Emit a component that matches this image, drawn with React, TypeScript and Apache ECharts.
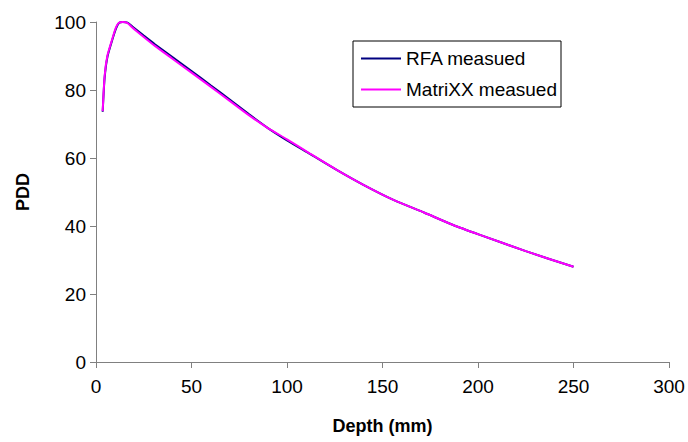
import React, { useEffect, useRef } from "react";
import * as echarts from "echarts";

const depths = [3.5, 4.5, 6, 8.5, 10.5, 12, 14, 16.5, 19, 25, 31, 40, 50, 60, 70, 80, 90, 100, 112, 126, 140, 156, 172, 187, 201, 225, 250];
const rfa = [73.6, 83.5, 89.8, 94.7, 98.1, 99.7, 100, 99.8, 98.7, 96.0, 93.4, 89.7, 85.6, 81.4, 77.2, 72.9, 68.8, 65.2, 61.2, 56.5, 52.1, 47.6, 43.9, 40.3, 37.4, 32.6, 28.0];
const matrixx = [73.8, 84.0, 90.2, 95.0, 98.5, 99.8, 100, 99.7, 98.4, 95.6, 92.9, 89.2, 85.1, 81.0, 76.8, 72.6, 68.8, 65.5, 61.3, 56.5, 52.1, 47.6, 43.9, 40.3, 37.4, 32.6, 28.0];
const seriesNames = ["RFA measued", "MatriXX measued"];
const xTitle = "Depth (mm)";
const yTitle = "PDD";

export default function App() {
  const ref = useRef<HTMLDivElement>(null);
  useEffect(() => {
    if (!ref.current) return;
    const chart = echarts.init(ref.current, undefined, { renderer: "svg" });
    const font = "'Liberation Sans', Arial, sans-serif";
    chart.setOption({
      animation: false,
      backgroundColor: "#ffffff",
      textStyle: { fontFamily: font },
      grid: { left: 96, right: 19, top: 22, bottom: 80, containLabel: false },
      legend: {
        orient: "vertical",
        left: 353,
        top: 41,
        data: seriesNames,
        icon: "rect",
        itemWidth: 40,
        itemHeight: 2,
        itemGap: 12,
        padding: [8, 4, 8, 8],
        borderColor: "#000000",
        borderWidth: 1,
        textStyle: { fontSize: 19, color: "#000", fontFamily: font },
      },
      xAxis: {
        type: "value",
        min: 0,
        max: 300,
        interval: 50,
        name: xTitle,
        nameLocation: "middle",
        nameGap: 55,
        nameTextStyle: { fontSize: 18, fontWeight: "bold", color: "#000", fontFamily: font },
        axisLine: { lineStyle: { color: "#808080", width: 1 } },
        axisTick: { inside: false, length: 6, lineStyle: { color: "#808080" } },
        axisLabel: { fontSize: 19, color: "#000", margin: 15, fontFamily: font },
        splitLine: { show: false },
      },
      yAxis: {
        type: "value",
        min: 0,
        max: 100,
        interval: 20,
        name: yTitle,
        nameLocation: "middle",
        nameGap: 64,
        nameRotate: 90,
        nameTextStyle: { fontSize: 18, fontWeight: "bold", color: "#000", fontFamily: font },
        axisLine: { show: true, lineStyle: { color: "#808080", width: 1 } },
        axisTick: { show: true, inside: false, length: 6, lineStyle: { color: "#808080" } },
        axisLabel: { fontSize: 19, color: "#000", margin: 10, fontFamily: font },
        splitLine: { show: false },
      },
      series: [
        {
          name: seriesNames[0],
          type: "line",
          data: depths.map((d, i) => [d, rfa[i]]),
          symbol: "none",
          smooth: 0.2,
          lineStyle: { color: "#000080", width: 2 },
          itemStyle: { color: "#000080" },
        },
        {
          name: seriesNames[1],
          type: "line",
          data: depths.map((d, i) => [d, matrixx[i]]),
          symbol: "none",
          smooth: 0.2,
          lineStyle: { color: "#FF00FF", width: 2 },
          itemStyle: { color: "#FF00FF" },
        },
      ],
    });
    return () => chart.dispose();
  }, []);
  return <div ref={ref} style={{ width: 688, height: 442, position: "absolute", left: 0, top: 0 }} />;
}
